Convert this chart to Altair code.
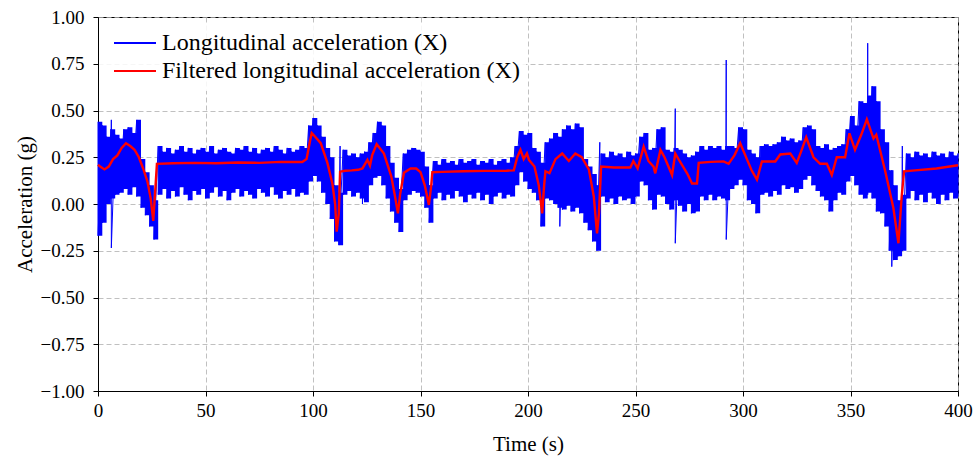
import altair as alt
import pandas as pd

# ---------------- data ----------------
RAW = "Longitudinal acceleration (X)"
FILT = "Filtered longitudinal acceleration (X)"

# envelope (max / min) of the raw (blue) signal every 2 s
t_env = list(range(0, 401, 2))
hi = [0.44, 0.42, 0.36, 0.40, 0.37, 0.35, 0.40, 0.41, 0.38, 0.45,
      0.24, 0.17, 0.10, 0.02,
      0.31, 0.28, 0.30, 0.27, 0.29, 0.31, 0.28, 0.30, 0.27, 0.29,
      0.30, 0.28, 0.31, 0.27, 0.29, 0.30, 0.28, 0.27, 0.30, 0.29,
      0.31, 0.28, 0.30, 0.27, 0.29, 0.30, 0.28, 0.31, 0.29, 0.27,
      0.30, 0.28, 0.29, 0.31, 0.30,
      0.42, 0.46, 0.42, 0.36, 0.30, 0.25, 0.10, 0.06,
      0.29, 0.26, 0.27, 0.25, 0.27, 0.28,
      0.33, 0.38, 0.44, 0.42, 0.31, 0.22, 0.14, 0.08,
      0.27, 0.29, 0.30, 0.29, 0.28, 0.20, 0.10,
      0.23, 0.21, 0.24, 0.22, 0.23, 0.21, 0.24, 0.22, 0.23, 0.24,
      0.21, 0.23, 0.22, 0.24, 0.21, 0.23, 0.24, 0.22, 0.25,
      0.31, 0.39, 0.37, 0.38, 0.30, 0.28, 0.22, 0.33, 0.35, 0.38,
      0.36, 0.40, 0.42, 0.40, 0.43, 0.41, 0.24, 0.20, 0.16, 0.10,
      0.27, 0.25, 0.28, 0.26, 0.27, 0.25, 0.28, 0.26, 0.27,
      0.36, 0.38, 0.29, 0.30, 0.40, 0.41, 0.29, 0.28, 0.30, 0.29,
      0.27, 0.25, 0.26, 0.28,
      0.31, 0.29, 0.31, 0.30, 0.31, 0.29, 0.31,
      0.31, 0.30, 0.41, 0.40, 0.29, 0.27, 0.25, 0.31, 0.32, 0.31,
      0.32, 0.33, 0.36, 0.34, 0.35, 0.33, 0.34, 0.41, 0.42, 0.40,
      0.31, 0.30, 0.32, 0.29, 0.30, 0.31, 0.32, 0.40, 0.47, 0.42,
      0.55, 0.54, 0.58, 0.63, 0.55, 0.40, 0.33, 0.18, 0.10, 0.02,
      0.05, 0.27, 0.25, 0.28, 0.26, 0.27, 0.25, 0.28, 0.26, 0.27,
      0.25, 0.28, 0.26, 0.27]
lo = [-0.17, -0.10, 0.00, 0.03, 0.05, 0.06, 0.08, 0.05, 0.09, 0.04,
      -0.02, -0.06, -0.12, -0.19,
      0.05, 0.08, 0.03, 0.07, 0.04, 0.09, 0.05, 0.02, 0.07, 0.05,
      0.08, 0.03, 0.06, 0.09, 0.04, 0.07, 0.02, 0.06, 0.08, 0.04,
      0.07, 0.05, 0.03, 0.08, 0.06, 0.04, 0.09, 0.05, 0.03, 0.07,
      0.05, 0.08, 0.04, 0.06, 0.05,
      0.12, 0.15, 0.12, 0.06, 0.00, -0.08, -0.20, -0.22,
      0.05, 0.07, 0.04, 0.06, 0.03, 0.01,
      0.10, 0.14, 0.15, 0.10, 0.03, -0.04, -0.10, -0.15,
      0.02, 0.05, 0.07, 0.06, 0.04, -0.02, -0.10,
      0.03, 0.06, 0.02, 0.05, 0.03, 0.07, 0.04, 0.01, 0.05, 0.03,
      0.06, 0.02, 0.05, 0.00, 0.04, 0.06, 0.03, 0.05, 0.04,
      0.10, 0.17, 0.12, 0.08, 0.06, 0.02, -0.12, 0.03, 0.02, 0.00,
      -0.02, -0.03, -0.01, -0.04, -0.02, -0.05, -0.10, -0.14, -0.20, -0.25,
      0.04, 0.01, 0.03, 0.00, 0.04, 0.02, 0.03, 0.00, 0.04,
      0.12, 0.10, 0.02, -0.03, 0.05, 0.04, 0.00, -0.03, 0.02, -0.01,
      -0.04, 0.00, -0.05, -0.04,
      0.04, 0.02, 0.05, 0.02, 0.04, 0.03, 0.02,
      0.08, 0.10, 0.13, 0.10, 0.02, 0.00, -0.05, 0.05, 0.06, 0.04,
      0.07, 0.05, 0.10, 0.08, 0.09, 0.06, 0.08, 0.13, 0.15, 0.10,
      0.07, 0.04, 0.02, -0.04, 0.02, 0.06, 0.05, 0.12, 0.15, 0.10,
      0.05, 0.03, 0.06, 0.03, -0.04, -0.05, -0.12, -0.25, -0.30, -0.28,
      -0.25, 0.03, 0.07, 0.02, 0.05, 0.01, 0.06, 0.03, 0.00, 0.05,
      0.02, 0.06, 0.03, 0.04]

# isolated spikes of the raw signal
spike_t = [6.2, 112.6, 123.0, 214.8, 233.4, 268.5, 292.2, 358.0, 369.2, 374.1]
spike_hi = [0.45, 0.31, 0.25, 0.30, 0.33, 0.51, 0.77, 0.86, 0.18, 0.31]
spike_lo = [-0.235, -0.05, 0.0, -0.12, -0.20, -0.21, -0.19, 0.05, -0.335, -0.25]

# filtered (red) signal
filt_t = [0, 1, 3, 5, 7, 9, 11, 13, 15, 17, 19, 21, 23, 24.5, 25.7, 26.5, 27.4,
          35, 45, 55, 65, 75, 85, 95, 97, 98.5, 99.4, 101, 103.6, 106.7, 109,
          110.3, 111, 112, 112.6, 115, 118, 121, 123, 124.5, 125.3, 126.5, 127.5,
          129.6, 131, 133, 136.4, 138, 139.5, 140.5, 142.3, 145.4, 148, 150, 152,
          153.9, 155, 155.5, 160, 170, 180, 190, 193.4, 195, 196.5, 198, 199.5,
          200.5, 203, 205, 206.6, 207.5, 208.1, 210, 212.8, 215.9, 219, 222, 225,
          228.3, 230.6, 232.1, 233, 234, 240, 247.6, 249, 251, 253.8, 256, 258.4,
          259.2, 261.6, 263.5, 267, 268.5, 270.5, 274, 276.3, 278.6, 279.4, 285,
          291, 293.3, 296, 298.7, 301.8, 304, 306.5, 308.8, 315, 317.3, 322, 325,
          327, 329.4, 332.8, 335.9, 339, 341.3, 343.6, 347.5, 349.5, 352.1, 355,
          357.6, 360.7, 362, 366.1, 369.9, 372.3, 373.8, 374.9, 380, 390, 400]
filt_v = [0.21, 0.20, 0.185, 0.20, 0.24, 0.26, 0.30, 0.325, 0.31, 0.29, 0.25,
          0.19, 0.12, 0.03, -0.09, 0.05, 0.215,
          0.218, 0.22, 0.218, 0.222, 0.22, 0.225, 0.225, 0.24, 0.33, 0.38, 0.36,
          0.325, 0.22, 0.11, 0.0, -0.148, -0.05, 0.173, 0.178, 0.18, 0.183, 0.19,
          0.22, 0.236, 0.205, 0.26, 0.32, 0.30, 0.27, 0.148, 0.05, -0.05, 0.05,
          0.167, 0.19, 0.19, 0.17, 0.10, -0.005, 0.10, 0.17, 0.172, 0.175, 0.177,
          0.178, 0.18, 0.25, 0.29, 0.24, 0.27, 0.235, 0.20, 0.10, -0.05, 0.10,
          0.175, 0.165, 0.24, 0.27, 0.23, 0.27, 0.25, 0.185, 0.04, -0.157, -0.05,
          0.20, 0.195, 0.195, 0.23, 0.19, 0.307, 0.23, 0.20, 0.164, 0.289, 0.25,
          0.155, 0.27, 0.23, 0.164, 0.11, 0.11, 0.22, 0.225, 0.228, 0.215, 0.26,
          0.325, 0.24, 0.18, 0.13, 0.227, 0.227, 0.265, 0.27, 0.22, 0.28, 0.357,
          0.25, 0.215, 0.215, 0.155, 0.25, 0.25, 0.378, 0.29, 0.37, 0.453, 0.35,
          0.37, 0.178, -0.018, -0.21, 0.04, 0.175, 0.18, 0.19, 0.207]

x_ticks = [0, 50, 100, 150, 200, 250, 300, 350, 400]
y_ticks = [-1.0, -0.75, -0.5, -0.25, 0.0, 0.25, 0.5, 0.75, 1.0]

assert len(hi) == len(t_env) == len(lo), (len(hi), len(lo), len(t_env))
assert len(filt_t) == len(filt_v)

# ---------------- tables ----------------
env_df = pd.DataFrame({"t": t_env, "hi": hi, "lo": lo})

rows = []
for t, h, l in zip(t_env, hi, lo):
    rows.append((t, 0, h))
    rows.append((t, 1, l))
for t, h, l in zip(spike_t, spike_hi, spike_lo):
    rows.append((t, 0, h))
    rows.append((t, 1, l))
rows.sort()
raw_df = pd.DataFrame({
    "t": [r[0] for r in rows],
    "v": [r[2] for r in rows],
    "ord": list(range(len(rows))),
    "series": RAW,
})
filt_df = pd.DataFrame({"t": filt_t, "v": filt_v, "ord": list(range(len(filt_t))), "series": FILT})

FONT = "Liberation Serif"

x_enc = alt.X("t:Q", scale=alt.Scale(domain=[0, 400], nice=False),
              axis=alt.Axis(values=x_ticks, title="Time (s)", format="d", labelFlush=False))
y_scale = alt.Scale(domain=[-1, 1], nice=False)
y_axis = alt.Axis(values=y_ticks, title="Acceleration (g)", format=".2f", labelFlush=False)

color = alt.Color(
    "series:N",
    scale=alt.Scale(domain=[RAW, FILT], range=["#0000ff", "#ff0000"]),
    legend=alt.Legend(
        title=None, orient="none", legendX=1, legendY=6, padding=6,
        fillColor="rgba(255,255,255,0.85)",
        labelFont=FONT, labelFontSize=24, labelColor="black", labelLimit=700,
        symbolType="stroke", symbolStrokeWidth=2, symbolSize=1764,
        symbolOffset=8, labelOffset=5, clipHeight=28, rowPadding=0,
    ),
)

band = alt.Chart(env_df).mark_area(color="#0000ff", opacity=1, interpolate="step-after").encode(
    x=x_enc, y=alt.Y("lo:Q", scale=y_scale, axis=y_axis), y2="hi:Q"
)
raw = alt.Chart(raw_df).mark_line(strokeWidth=1).encode(
    x="t:Q", y="v:Q", order="ord:Q", color=color
)
filt = alt.Chart(filt_df).mark_line(strokeWidth=2.4).encode(
    x="t:Q", y="v:Q", order="ord:Q", color=color
)

chart = alt.layer(band, raw, filt).properties(
    width=860, height=374,
    autosize=alt.AutoSizeParams(type="none"),
    padding={"left": 98, "top": 17, "right": 19, "bottom": 65},
).configure_view(
    stroke="black", strokeWidth=1
).configure_axis(
    labelFont=FONT, labelFontSize=19, labelColor="black",
    titleFont=FONT, titleFontSize=21, titleFontWeight="normal", titleColor="black",
    domainColor="black", tickColor="black", tickSize=5,
    grid=True, gridColor="#b0b0b0", gridDash=[5, 3], gridWidth=0.8,
).configure_axisX(
    titlePadding=13, labelPadding=5
).configure_axisY(
    titlePadding=5, labelPadding=9
)

chart.save("out.html", embed_options={"renderer": "svg", "actions": False})
